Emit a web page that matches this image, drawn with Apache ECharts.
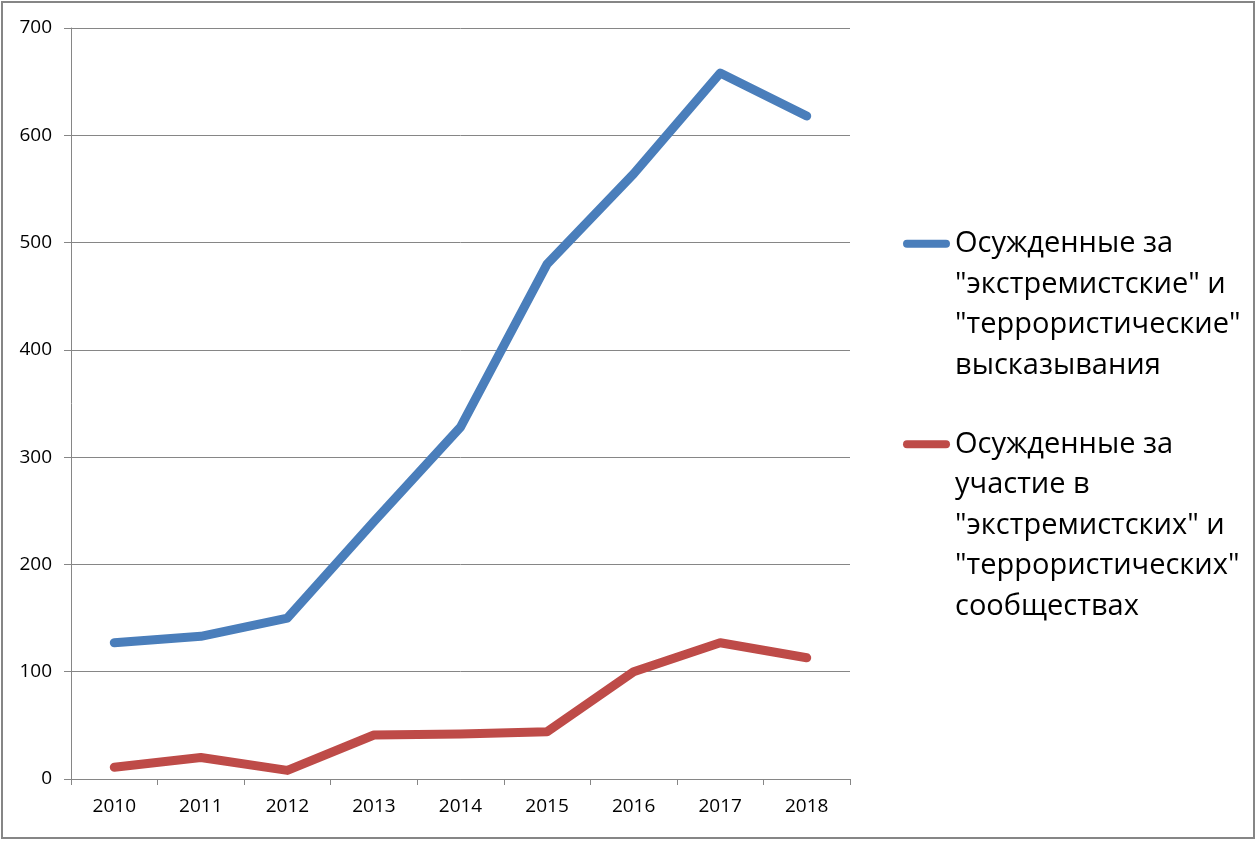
<!DOCTYPE html>
<html>
<head>
<meta charset="utf-8">
<script src="https://cdn.jsdelivr.net/npm/echarts@6/dist/echarts.min.js"></script>
<style>
html,body{margin:0;padding:0;background:#fff;}
#chart{width:1257px;height:841px;}
</style>
</head>
<body>
<div id="chart"></div>
<script>
const years = ['2010','2011','2012','2013','2014','2015','2016','2017','2018'];
const speechValues = [127, 133, 150, 240, 328, 480, 564, 658, 618];
const communityValues = [11, 20, 8, 41, 42, 44, 100, 127, 113];
const speechLabelLines = ['Осужденные за', '"экстремистские" и', '"террористические"', 'высказывания'];
const communityLabelLines = ['Осужденные за', 'участие в', '"экстремистских" и', '"террористических"', 'сообществах'];

const speechName = speechLabelLines.join(' ');
const communityName = communityLabelLines.join(' ');

const blue = '#4a7ebb';
const red = '#be4b48';
const axisFont = 'Open Sans';
const LH = 40.5;
const capsule = 'path://M4,0 L43,0 A4,4 0 0 1 43,8 L4,8 A4,4 0 0 1 4,0 Z';

function legendFor(name, lines, color, top) {
  // leading blank lines make the first real line sit level with the icon
  const blanks = new Array(lines.length - 1).fill(' ');
  return {
    orient: 'vertical',
    left: 898,
    top: top,
    itemWidth: 47,
    itemHeight: 8,
    icon: capsule,
    selectedMode: false,
    data: [{
      name: name,
      itemStyle: { color: color },
      textStyle: {
        fontFamily: axisFont,
        fontSize: 29,
        color: '#000',
        lineHeight: LH
      }
    }],
    formatter: function () { return blanks.concat(lines).join('\n'); }
  };
}

const chart = echarts.init(document.getElementById('chart'), null, { renderer: 'canvas' });
chart.setOption({
  animation: false,
  backgroundColor: '#fff',
  graphic: [{
    type: 'rect',
    shape: { x: 2, y: 2, width: 1252, height: 836 },
    style: { fill: 'none', stroke: '#868686', lineWidth: 2 },
    silent: true
  }],
  grid: { left: 71, right: 407, top: 28, bottom: 62 },
  legend: [
    legendFor(speechName, speechLabelLines, blue, 97),
    legendFor(communityName, communityLabelLines, red, 257)
  ],
  xAxis: {
    type: 'category',
    data: years,
    boundaryGap: true,
    axisLine: { lineStyle: { color: '#868686', width: 1 } },
    axisTick: { show: true, length: 6, lineStyle: { color: '#868686' } },
    axisLabel: { color: '#000', fontFamily: axisFont, fontSize: 19, margin: 18 }
  },
  yAxis: {
    type: 'value',
    min: 0, max: 700, interval: 100,
    axisLine: { show: true, lineStyle: { color: '#868686', width: 1 } },
    axisTick: { show: true, length: 7, lineStyle: { color: '#868686' } },
    axisLabel: { color: '#000', fontFamily: axisFont, fontSize: 19, margin: 19 },
    splitLine: { show: true, lineStyle: { color: '#868686', width: 1 } }
  },
  series: [
    {
      name: speechName, type: 'line', data: speechValues,
      symbol: 'none', color: blue,
      lineStyle: { color: blue, width: 9, cap: 'round', join: 'round' }
    },
    {
      name: communityName, type: 'line', data: communityValues,
      symbol: 'none', color: red,
      lineStyle: { color: red, width: 9, cap: 'round', join: 'round' }
    }
  ]
});
</script>
</body>
</html>
